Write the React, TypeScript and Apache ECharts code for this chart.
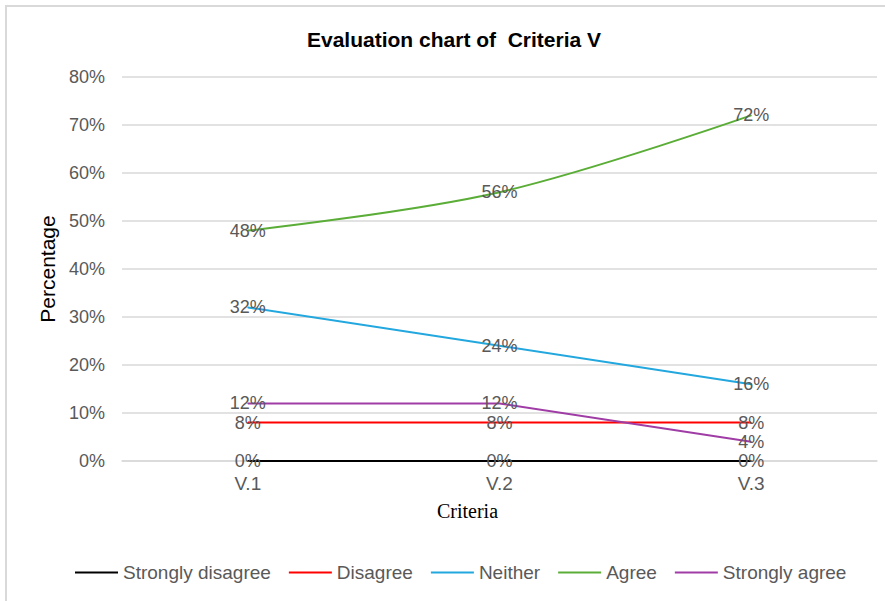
import React, { useEffect, useRef } from "react";
import * as echarts from "echarts";

const categories = ["V.1", "V.2", "V.3"];
const stronglyDisagree = [0, 0, 0];
const disagree = [8, 8, 8];
const neither = [32, 24, 16];
const agree = [48, 56, 72];
const stronglyAgree = [12, 12, 4];
const yTicks = { min: 0, max: 80, interval: 10 };

const FONT = "'Liberation Sans', Arial, sans-serif";
const GRAY = "#595959";

export default function App() {
  const ref = useRef<HTMLDivElement>(null);
  useEffect(() => {
    if (!ref.current) return;
    const chart = echarts.init(ref.current, undefined, { renderer: "svg" });
    const mk = (name: string, data: number[], color: string, smooth: number | boolean) => ({
      name,
      type: "line",
      data,
      smooth,
      symbol: "circle",
      symbolSize: 1,
      itemStyle: { color },
      lineStyle: { color, width: 2 },
      label: {
        show: true,
        position: "inside",
        formatter: "{c}%",
        color: GRAY,
        fontSize: 18,
        fontFamily: FONT,
      },
      emphasis: { disabled: true },
    });
    chart.setOption({
      animation: false,
      backgroundColor: "#ffffff",
      title: {
        text: "Evaluation chart of  Criteria V",
        left: 302,
        top: 24,
        textStyle: { fontSize: 21, fontWeight: "bold", color: "#000", fontFamily: FONT },
      },
      graphic: [
        {
          type: "rect",
          shape: { x: 6, y: 6, width: 920, height: 640 },
          style: { fill: "none", stroke: "#d9d9d9", lineWidth: 2 },
          silent: true,
        },
      ],
      legend: {
        left: 70,
        top: 558,
        icon: "rect",
        itemWidth: 43,
        itemHeight: 2,
        itemGap: 18,
        textStyle: { fontSize: 19, color: GRAY, fontFamily: FONT },
        data: ["Strongly disagree", "Disagree", "Neither", "Agree", "Strongly agree"],
      },
      grid: { left: 122, right: 8, top: 77, bottom: 140, containLabel: false },
      xAxis: {
        type: "category",
        data: categories,
        boundaryGap: true,
        name: "Criteria",
        nameLocation: "middle",
        nameGap: 40,
        nameTextStyle: {
          fontFamily: "'Liberation Serif', 'Times New Roman', serif",
          fontSize: 20,
          color: "#000",
          padding: [0, 64, 0, 0],
        },
        axisLine: { show: true, lineStyle: { color: "#d9d9d9", width: 1.5 } },
        axisTick: { show: false },
        axisLabel: { color: GRAY, fontSize: 19, fontFamily: FONT, margin: 13 },
      },
      yAxis: {
        type: "value",
        min: yTicks.min,
        max: yTicks.max,
        interval: yTicks.interval,
        name: "Percentage",
        nameLocation: "middle",
        nameGap: 60,
        nameTextStyle: { fontFamily: FONT, fontSize: 21, color: "#000" },
        axisLine: { show: false },
        axisTick: { show: false },
        axisLabel: { color: GRAY, fontSize: 18, fontFamily: FONT, margin: 17, formatter: "{value}%" },
        splitLine: { lineStyle: { color: "#d9d9d9", width: 1.5 } },
      },
      series: [
        mk("Strongly disagree", stronglyDisagree, "#000000", false),
        mk("Disagree", disagree, "#ff0000", false),
        mk("Neither", neither, "#22a7de", false),
        mk("Agree", agree, "#5aad36", 0.35),
        mk("Strongly agree", stronglyAgree, "#a03ca5", false),
      ],
    });
    return () => chart.dispose();
  }, []);
  return (
    <div
      ref={ref}
      style={{ position: "absolute", left: 0, top: 0, width: 885, height: 601 }}
    />
  );
}
